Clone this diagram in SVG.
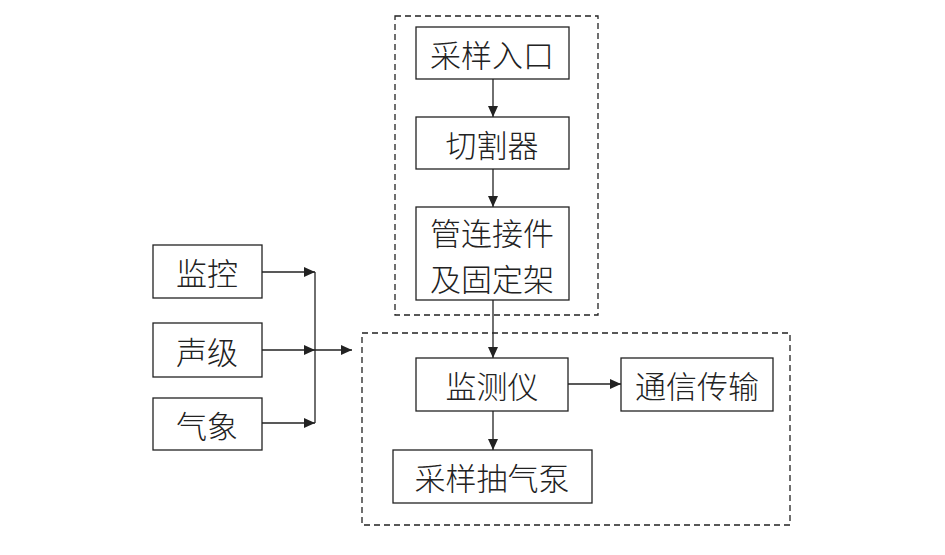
<svg xmlns="http://www.w3.org/2000/svg" width="945" height="555" viewBox="0 0 945 555">
<style>
.box{fill:#fff;stroke:#222;stroke-width:1.3}
.dash{fill:none;stroke:#222;stroke-width:1.3;stroke-dasharray:6,4}
.ln{fill:none;stroke:#222;stroke-width:1.3}
text{font-family:"Noto Sans CJK SC","Noto Sans CJK JP",sans-serif;font-size:31px;font-weight:300;fill:#222;text-anchor:middle;dominant-baseline:central}
</style>
<defs>
<marker id="ah" markerWidth="12" markerHeight="10" refX="11" refY="5" orient="auto" markerUnits="userSpaceOnUse">
<path d="M0,0 L11,5 L0,10 Z" fill="#222"/>
</marker>
</defs>
<rect width="945" height="555" fill="#fff"/>
<g id="groups">
<rect class="dash" x="395" y="16" width="203" height="299"/>
<rect class="dash" x="362" y="333" width="428" height="192"/>
</g>
<g id="connectors">
<line class="ln" x1="493" y1="79" x2="493" y2="117" marker-end="url(#ah)"/>
<line class="ln" x1="493" y1="169" x2="493" y2="207" marker-end="url(#ah)"/>
<line class="ln" x1="493" y1="300" x2="493" y2="358" marker-end="url(#ah)"/>
<line class="ln" x1="493" y1="411" x2="493" y2="450" marker-end="url(#ah)"/>
<line class="ln" x1="568" y1="384" x2="621" y2="384" marker-end="url(#ah)"/>
<line class="ln" x1="262" y1="272" x2="315" y2="272" marker-end="url(#ah)"/>
<line class="ln" x1="262" y1="350" x2="315" y2="350" marker-end="url(#ah)"/>
<line class="ln" x1="262" y1="423" x2="315" y2="423" marker-end="url(#ah)"/>
<line class="ln" x1="315" y1="272" x2="315" y2="423"/>
<line class="ln" x1="315" y1="350" x2="352" y2="350" marker-end="url(#ah)"/>
</g>
<g id="n1"><rect class="box" x="416" y="27" width="153" height="52"/><text x="492" y="53">采样入口</text></g>
<g id="n2"><rect class="box" x="416" y="117" width="153" height="52"/><text x="492" y="143">切割器</text></g>
<g id="n3"><rect class="box" x="416" y="207" width="153" height="93"/><text x="492" y="231">管连接件</text><text x="492" y="277">及固定架</text></g>
<g id="n4"><rect class="box" x="153" y="245" width="109" height="53"/><text x="207" y="271">监控</text></g>
<g id="n5"><rect class="box" x="153" y="323" width="109" height="54"/><text x="207" y="350">声级</text></g>
<g id="n6"><rect class="box" x="153" y="398" width="109" height="52"/><text x="207" y="424">气象</text></g>
<g id="n7"><rect class="box" x="416" y="358" width="152" height="53"/><text x="492" y="384">监测仪</text></g>
<g id="n8"><rect class="box" x="621" y="358" width="152" height="53"/><text x="697" y="384">通信传输</text></g>
<g id="n9"><rect class="box" x="393" y="450" width="199" height="53"/><text x="492" y="476">采样抽气泵</text></g>
</svg>
